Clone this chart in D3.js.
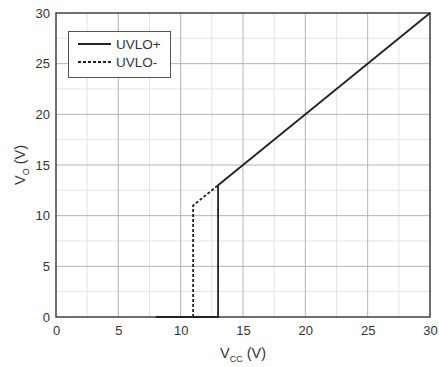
<!DOCTYPE html>
<html>
<head>
<meta charset="utf-8">
<script src="https://cdn.jsdelivr.net/npm/d3@7"></script>
<style>
  body { margin: 0; background: #fff; }
  text { font-family: "Liberation Sans", Arial, sans-serif; fill: #333; }
</style>
</head>
<body>
<div id="chart"></div>
<script>
// data
var uvloUp = [[8, 0], [13, 0], [13, 13], [30, 30]];
var uvloDown = [[11, 0], [11, 11], [13, 13]];
var xTicks = [0, 5, 10, 15, 20, 25, 30];
var yTicks = [0, 5, 10, 15, 20, 25, 30];
var minorTicks = [2.5, 7.5, 12.5, 17.5, 22.5, 27.5];

var width = 439, height = 367;
var margin = {left: 56, right: 9, top: 13, bottom: 50};

var svg = d3.select("#chart").append("svg")
    .attr("width", width)
    .attr("height", height);

var x = d3.scaleLinear().domain([0, 30]).range([margin.left, width - margin.right]);
var y = d3.scaleLinear().domain([0, 30]).range([height - margin.bottom, margin.top]);

// minor grid
svg.append("g").selectAll("line.vx").data(minorTicks).enter().append("line")
    .attr("x1", d => x(d)).attr("x2", d => x(d))
    .attr("y1", y(0)).attr("y2", y(30))
    .attr("stroke", "#e3e3e3").attr("stroke-width", 1);
svg.append("g").selectAll("line.hy").data(minorTicks).enter().append("line")
    .attr("y1", d => y(d)).attr("y2", d => y(d))
    .attr("x1", x(0)).attr("x2", x(30))
    .attr("stroke", "#e3e3e3").attr("stroke-width", 1);

// major grid
svg.append("g").selectAll("line").data(xTicks.slice(1, -1)).enter().append("line")
    .attr("x1", d => x(d)).attr("x2", d => x(d))
    .attr("y1", y(0)).attr("y2", y(30))
    .attr("stroke", "#b4b4b4").attr("stroke-width", 1);
svg.append("g").selectAll("line").data(yTicks.slice(1, -1)).enter().append("line")
    .attr("y1", d => y(d)).attr("y2", d => y(d))
    .attr("x1", x(0)).attr("x2", x(30))
    .attr("stroke", "#b4b4b4").attr("stroke-width", 1);

// frame
svg.append("rect")
    .attr("x", x(0)).attr("y", y(30))
    .attr("width", x(30) - x(0)).attr("height", y(0) - y(30))
    .attr("fill", "none").attr("stroke", "#333").attr("stroke-width", 1.4);

// axes (labels only)
var xAxis = svg.append("g")
    .attr("transform", "translate(0," + y(0) + ")")
    .call(d3.axisBottom(x).tickValues(xTicks).tickSize(0).tickPadding(9));
xAxis.select(".domain").remove();
xAxis.selectAll("text").style("font-size", "13px").attr("fill", "#333");

var yAxis = svg.append("g")
    .attr("transform", "translate(" + x(0) + ",0)")
    .call(d3.axisLeft(y).tickValues(yTicks).tickSize(0).tickPadding(6));
yAxis.select(".domain").remove();
yAxis.selectAll("text").style("font-size", "13px").attr("fill", "#333");

// lines
var line = d3.line().x(d => x(d[0])).y(d => y(d[1]));
svg.append("path").datum(uvloDown)
    .attr("d", line).attr("fill", "none")
    .attr("stroke", "#222").attr("stroke-width", 1.8)
    .attr("stroke-dasharray", "3,2");
svg.append("path").datum(uvloUp)
    .attr("d", line).attr("fill", "none")
    .attr("stroke", "#222").attr("stroke-width", 1.8);

// legend
var lg = svg.append("g");
lg.append("rect").attr("x", 68.5).attr("y", 31.5).attr("width", 102).attr("height", 46)
    .attr("fill", "#fff").attr("stroke", "#555").attr("stroke-width", 1);
lg.append("line").attr("x1", 78).attr("x2", 111).attr("y1", 44).attr("y2", 44)
    .attr("stroke", "#222").attr("stroke-width", 1.8);
lg.append("line").attr("x1", 78).attr("x2", 111).attr("y1", 62).attr("y2", 62)
    .attr("stroke", "#222").attr("stroke-width", 1.8).attr("stroke-dasharray", "3,2");
lg.append("text").attr("x", 116).attr("y", 49).style("font-size", "13.5px").text("UVLO+");
lg.append("text").attr("x", 116).attr("y", 67).style("font-size", "13.5px").text("UVLO-");

// axis titles
var xt = svg.append("text")
    .attr("x", 243).attr("y", 358)
    .attr("text-anchor", "middle")
    .style("font-size", "14.5px");
xt.append("tspan").text("V");
xt.append("tspan").attr("dy", 4).style("font-size", "9px").text("CC");
xt.append("tspan").attr("dy", -4).text(" (V)");

var yt = svg.append("text")
    .attr("transform", "translate(25," + ((y(0) + y(30)) / 2) + ") rotate(-90)")
    .attr("text-anchor", "middle")
    .style("font-size", "14.5px");
yt.append("tspan").text("V");
yt.append("tspan").attr("dy", 4).style("font-size", "9px").text("O");
yt.append("tspan").attr("dy", -4).text(" (V)");
</script>
</body>
</html>
